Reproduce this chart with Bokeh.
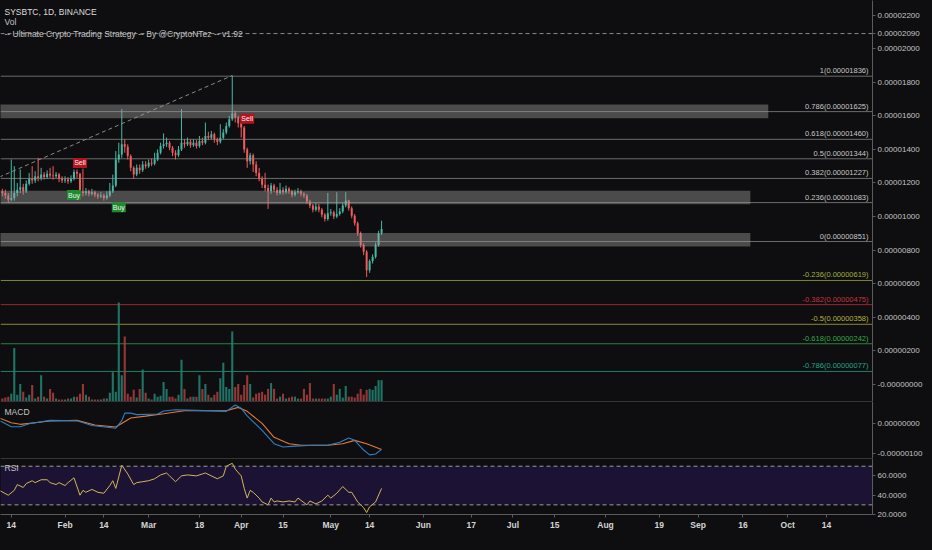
import numpy as np
import pandas as pd
from bokeh.plotting import figure
from bokeh.layouts import column
from bokeh.models import (ColumnDataSource, Range1d, FixedTicker, Span, Label,
                          BoxAnnotation, GlobalInlineStyleSheet)
from bokeh.embed import file_html
from bokeh.resources import INLINE
from bokeh.core.properties import value

# ---------------- data (prices in satoshi = 1e-8 BTC) ----------------
start_date = "2019-01-10"
opens = [1160, 1150, 1140, 1125, 1100, 1110, 1140, 1160, 1175, 1150, 1195, 1225, 1215, 1240,
         1230, 1250, 1235, 1255, 1245, 1240, 1250, 1225, 1215, 1220, 1210, 1225, 1265,
         1255, 1150, 1140, 1150, 1135, 1145, 1130, 1120, 1125, 1110,
         1125, 1150, 1185, 1340, 1370, 1430, 1415, 1360, 1290, 1250, 1290, 1275, 1310, 1300,
         1320, 1315, 1340, 1380, 1420, 1430, 1440, 1410, 1380, 1365, 1400, 1440, 1430, 1445,
         1425, 1440, 1420, 1450, 1440, 1480, 1470, 1490, 1460, 1445, 1470, 1500, 1540, 1580,
         1615, 1590, 1555,
         1530, 1400, 1330, 1365, 1310, 1260, 1225, 1190, 1170, 1150, 1185, 1160, 1140, 1160,
         1145, 1165, 1150, 1130, 1145, 1150, 1135, 1125, 1090, 1065, 1040, 1060, 1040, 1010,
         985, 1020, 1025, 1000, 1015, 1030, 1065, 1095, 1050, 1005, 960, 900, 830, 790, 680,
         735, 760, 830, 900]
highs = [1180, 1165, 1160, 1140, 1340, 1300, 1200, 1280, 1195, 1215, 1260, 1300, 1270, 1350,
         1290, 1265, 1275, 1290, 1300, 1265, 1260, 1240, 1240, 1235, 1245, 1280, 1280,
         1260, 1285, 1170, 1160, 1165, 1155, 1140, 1145, 1135, 1150,
         1200, 1250, 1390, 1440, 1640, 1460, 1430, 1370, 1300, 1310, 1310, 1330, 1330, 1340,
         1345, 1380, 1400, 1440, 1495, 1470, 1450, 1420, 1395, 1420, 1640, 1460, 1470, 1460,
         1460, 1455, 1480, 1470, 1560, 1505, 1510, 1500, 1470, 1550, 1520, 1560, 1600, 1840,
         1630, 1600, 1565,
         1540, 1410, 1380, 1375, 1330, 1290, 1240, 1260, 1190, 1200, 1195, 1175, 1200, 1175,
         1185, 1175, 1160, 1160, 1170, 1160, 1145, 1135, 1100, 1075, 1080, 1075, 1050, 1020,
         1140, 1045, 1035, 1145, 1050, 1080, 1145, 1100, 1060, 1015, 970, 910, 840, 800, 745,
         775, 845, 915, 975]
lows = [1130, 1120, 1105, 1080, 1090, 1095, 1120, 1140, 1130, 1140, 1185, 1195, 1200, 1210,
        1215, 1220, 1225, 1230, 1220, 1230, 1205, 1200, 1200, 1195, 1200, 1215, 1230,
        1125, 1120, 1125, 1120, 1125, 1115, 1105, 1110, 1095, 1100,
        1115, 1140, 1175, 1320, 1350, 1380, 1340, 1270, 1225, 1240, 1255, 1265, 1285, 1290,
        1300, 1305, 1330, 1370, 1405, 1415, 1395, 1360, 1340, 1355, 1390, 1410, 1420, 1410,
        1415, 1405, 1410, 1425, 1430, 1455, 1460, 1440, 1425, 1435, 1460, 1490, 1530, 1570,
        1560, 1530, 1470,
        1380, 1290, 1310, 1265, 1240, 1210, 1170, 1150, 1045, 1135, 1145, 1125, 1130, 1130,
        1135, 1135, 1115, 1120, 1135, 1120, 1110, 1075, 1050, 1025, 1030, 1025, 995, 970,
        975, 1005, 985, 990, 1005, 1020, 1055, 1035, 990, 945, 885, 815, 770, 640, 665,
        720, 750, 820, 890]
closes = [1150, 1140, 1125, 1100, 1110, 1140, 1160, 1175, 1150, 1195, 1225, 1215, 1240, 1230,
          1250, 1235, 1255, 1245, 1240, 1250, 1225, 1215, 1220, 1210, 1225, 1265, 1255,
          1150, 1140, 1150, 1135, 1145, 1130, 1120, 1125, 1110, 1125,
          1150, 1185, 1340, 1370, 1430, 1415, 1360, 1290, 1250, 1290, 1275, 1310, 1300, 1320,
          1315, 1340, 1380, 1420, 1430, 1440, 1410, 1380, 1365, 1400, 1440, 1430, 1445, 1425,
          1440, 1420, 1450, 1440, 1480, 1470, 1490, 1460, 1445, 1470, 1500, 1540, 1580, 1615,
          1590, 1555, 1530,
          1400, 1330, 1365, 1310, 1260, 1225, 1190, 1170, 1150, 1185, 1160, 1140, 1160, 1145,
          1165, 1150, 1130, 1145, 1150, 1135, 1125, 1090, 1065, 1040, 1060, 1040, 1010, 985,
          1020, 1025, 1000, 1015, 1030, 1065, 1095, 1050, 1005, 960, 900, 830, 790, 680, 735,
          760, 830, 900, 925]
volumes = [16, 12, 16, 20, 32, 220, 28, 72, 40, 16, 28, 68, 12, 20, 108, 20, 12, 52, 36, 12,
           8, 8, 8, 12, 12, 20, 20, 32, 72, 28, 20, 8, 8, 8, 8, 12, 12, 36, 120, 40, 408, 108,
           268, 32, 20, 48, 16, 52, 132, 36, 12, 8, 32, 20, 24, 80, 52, 20, 20, 12, 28, 172,
           52, 12, 20, 20, 20, 108, 52, 72, 28, 16, 28, 40, 96, 160, 60, 52, 288, 60, 72, 28,
           68, 108, 72, 16, 32, 36, 40, 28, 52, 76, 52, 12, 20, 32, 12, 16, 20, 20, 12, 12, 52,
           28, 76, 12, 12, 12, 12, 12, 12, 20, 72, 28, 52, 16, 64, 20, 20, 16, 32, 52, 28, 48,
           52, 48, 64, 88, 88]

# MACD (blue) and signal (orange), satoshi units, sampled by day index
macd_days = [0, 4, 7, 10, 17, 26, 31, 39, 41, 42, 44, 46, 53, 55, 59, 66, 76, 79, 81, 83,
             88, 92, 95, 99, 105, 110, 114, 117, 119, 122, 124, 126, 128]
macd_vals = [10, -11, -11, -1, 10, 9, -7, -16, 9, 34, 34, 29, 31, 41, 45, 43, 40, 61, 50, 25,
             -23, -67, -78, -75, -72, -72, -62, -48, -56, -88, -104, -101, -86]
signal_days = [0, 4, 7, 17, 26, 32, 39, 44, 49, 55, 62, 76, 80, 83, 88, 92, 97, 101, 110,
               115, 119, 123, 128]
signal_vals = [18, 2, -3, 8, 10, -5, -12, 18, 24, 32, 42, 42, 53, 40, 0, -46, -67, -72, -72,
               -67, -56, -67, -86]

rsi_days = [0, 3, 5, 6, 8, 9, 11, 12, 14, 16, 17, 19, 20, 22, 23, 25, 27, 28, 29, 31, 33, 35,
            37, 38, 39, 41, 43, 45, 46, 48, 50, 52, 54, 56, 57, 59, 61, 63, 66, 68, 69, 71, 73,
            75, 76, 78, 79, 81, 82, 83, 84, 85, 87, 88, 90, 91, 92, 93, 95, 97, 99, 100, 103,
            104, 106, 108, 110, 111, 113, 115, 117, 118, 120, 122, 123, 124, 126, 128]
rsi_vals = [45, 40, 45, 51, 48, 52, 55, 53, 56, 56, 53, 51, 53, 50, 53, 58, 40, 45, 43, 46, 43,
            42, 50, 55, 47, 71, 62, 51, 53, 54, 55, 57, 61, 63, 60, 54, 60, 61, 60, 62, 63, 60,
            57, 60, 70, 73, 67, 60, 47, 37, 45, 43, 37, 33, 30, 37, 33, 34, 33, 34, 33, 37, 30,
            34, 31, 34, 40, 37, 42, 49, 43, 43, 33, 27, 22, 28, 33, 47]

fib_ratios = ["1", "0.786", "0.618", "0.5", "0.382", "0.236", "0",
              "-0.236", "-0.382", "-0.5", "-0.618", "-0.786"]
fib_values = [1836, 1625, 1460, 1344, 1227, 1083, 851, 619, 475, 358, 242, 77]
fib_colors = ["#8c8c8c"] * 7 + ["#a3b03a", "#c8323e", "#b8b23a", "#34a84a", "#23a482"]

zone_top = [1667, 1154, 902]
zone_bottom = [1586, 1073, 821]
zone_end_day = [257.5, 251.5, 251.5]

trend_days = [0, 78]
trend_prices = [1235, 1840]
strategy_level = 2090

sig_days = [27, 25, 40, 83]
sig_prices = [1319, 1128, 1056, 1582]
sig_kind = ["Sell", "Buy", "Buy", "Sell"]

price_ticks = [0, 200, 400, 600, 800, 1000, 1200, 1400, 1600, 1800, 2000, 2090, 2200]
price_tick_labels = ["-0.00000000", "0.00000200", "0.00000400", "0.00000600", "0.00000800",
                     "0.00001000", "0.00001200", "0.00001400", "0.00001600", "0.00001800",
                     "0.00002000", "0.00002090", "0.00002200"]
macd_ticks = [0, -100]
macd_tick_labels = ["0.00000000", "-0.00000100"]
rsi_ticks = [20, 40, 60]
rsi_tick_labels = ["20.0000", "40.0000", "60.0000"]

tick_dates = ["2019-01-14", "2019-02-01", "2019-02-14", "2019-03-01", "2019-03-18",
              "2019-04-01", "2019-04-15", "2019-05-01", "2019-05-14", "2019-06-01",
              "2019-06-17", "2019-07-01", "2019-07-15", "2019-08-01", "2019-08-19",
              "2019-09-01", "2019-09-16", "2019-10-01", "2019-10-14"]
tick_labels = ["14", "Feb", "14", "Mar", "18", "Apr", "15", "May", "14", "Jun", "17", "Jul",
               "15", "Aug", "19", "Sep", "16", "Oct", "14"]

# ---------------- styling ----------------
BG = "#0e0e10"
AX = "#5c5c5c"
TXT = "#c4c4c4"
FONT = "Liberation Sans"
UP, DOWN = "#45b8a6", "#ee5d5d"
VUP, VDOWN = "#22806f", "#a53c3c"
FW = 872
H_MAIN, H_MACD, H_RSI = 401, 57, 56

dates = pd.date_range(start_date, periods=len(closes), freq="D")
day = np.array((dates - dates[0]).days, dtype=float)
o = np.array(opens, float); c = np.array(closes, float)
up = c >= o
src = ColumnDataSource(dict(
    x=day, o=o, h=np.array(highs, float), l=np.array(lows, float), c=c,
    top=np.maximum(o, c), bot=np.minimum(o, c),
    col=[UP if u else DOWN for u in up],
    vcol=[VUP if u else VDOWN for u in up],
    vol=np.array(volumes, float)))
tick_pos = [int((pd.Timestamp(t) - dates[0]).days) for t in tick_dates]

x_range = Range1d(0.39, 292.4)


def style_axis(ax, size="8px"):
    ax.axis_line_color = AX
    ax.major_tick_line_color = AX
    ax.minor_tick_line_color = None
    ax.major_tick_in = 0
    ax.major_tick_out = 3
    ax.major_label_text_color = TXT
    ax.major_label_text_font = FONT
    ax.major_label_text_font_size = size
    ax.major_label_standoff = 2


def base_fig(h, yr, xloc=None):
    f = figure(frame_width=FW, frame_height=h, x_range=x_range, y_range=yr,
               x_axis_location=xloc, y_axis_location="right",
               output_backend="svg", toolbar_location=None,
               background_fill_color=BG, border_fill_color=BG,
               outline_line_color=None, min_border=0)
    f.xgrid.visible = False
    f.ygrid.visible = False
    style_axis(f.yaxis[0])
    return f


# ---------------- main pane ----------------
p = base_fig(H_MAIN, Range1d(-102, 2287))
p.yaxis[0].ticker = FixedTicker(ticks=price_ticks)
p.yaxis[0].major_label_overrides = dict(zip(price_ticks, price_tick_labels))
p.extra_y_ranges = {"vol": Range1d(0, 1652)}

for r, v, col in zip(fib_ratios, fib_values, fib_colors):
    p.add_layout(Span(location=v, dimension="width", line_color=col, line_width=1,
                      line_alpha=0.75, level="underlay"))
    p.add_layout(Label(x=FW - 4, x_units="screen", y=v, text=f"{r}({v / 1e8:.8f})",
                       text_align="right", text_baseline="bottom", y_offset=1,
                       text_font=FONT, text_font_size="7.5px",
                       text_color=("#c8c8c8" if col == "#8c8c8c" else col)))

p.add_layout(Span(location=strategy_level, dimension="width", line_color="#8a8a8a",
                  line_dash="4 3", line_width=1, level="underlay"))
p.line(trend_days, trend_prices, line_color="#8a8a8a", line_dash="4 3", line_width=1)

p.vbar(x="x", top="vol", bottom=0, width=0.7, fill_color="vcol", line_color=None,
       fill_alpha=0.9, y_range_name="vol", source=src)
p.segment(x0="x", y0="l", x1="x", y1="h", line_color="col", line_width=1, source=src)
p.vbar(x="x", top="top", bottom="bot", width=0.66, fill_color="col", line_color=None,
       source=src)

p.quad(left=[-5] * len(zone_top), right=zone_end_day, top=zone_top, bottom=zone_bottom,
       fill_color="#a0a0a0", fill_alpha=0.42, line_color=None)

sig_src = ColumnDataSource(dict(
    x=sig_days, y=sig_prices, t=sig_kind,
    col=["#b3141f" if k == "Sell" else "#1d8c2c" for k in sig_kind]))
p.rect(x="x", y="y", width=14, height=10, width_units="screen", height_units="screen",
       fill_color="col", line_color=None, source=sig_src)
p.text(x="x", y="y", text="t", text_align="center", text_baseline="middle",
       text_color="#f2f2f2", text_font=value(FONT), text_font_size="7px", source=sig_src)

for txt, yy, col in [("SYSBTC, 1D, BINANCE", H_MAIN - 11, "#dddddd"),
                     ("Vol", H_MAIN - 21.5, "#c4c4c4"),
                     ("-- Ultimate Crypto Trading Strategy -- By @CryptoNTez -- v1.92",
                      H_MAIN - 33, "#c4c4c4")]:
    p.add_layout(Label(x=4, y=yy, x_units="screen", y_units="screen", text=txt,
                       text_baseline="middle", text_font=FONT, text_font_size="8.5px",
                       text_color=col))

# ---------------- MACD pane ----------------
pm = base_fig(H_MACD, Range1d(-116, 72.5))
pm.yaxis[0].ticker = FixedTicker(ticks=macd_ticks)
pm.yaxis[0].major_label_overrides = dict(zip(macd_ticks, macd_tick_labels))
pm.add_layout(Span(location=72.5, dimension="width", line_color=AX, line_width=1))
pm.line(signal_days, signal_vals, line_color="#e27a36", line_width=1.1)
pm.line(macd_days, macd_vals, line_color="#2c7fc6", line_width=1.1)
pm.add_layout(Label(x=4, y=H_MACD - 10, x_units="screen", y_units="screen", text="MACD",
                    text_baseline="middle", text_font=FONT, text_font_size="8.5px",
                    text_color="#c4c4c4"))

# ---------------- RSI pane ----------------
pr = base_fig(H_RSI, Range1d(20, 78), xloc="below")
pr.min_border_bottom = 4
pr.yaxis[0].ticker = FixedTicker(ticks=rsi_ticks)
pr.yaxis[0].major_label_overrides = dict(zip(rsi_ticks, rsi_tick_labels))
pr.add_layout(BoxAnnotation(bottom=30, top=70, fill_color="#1c1233", fill_alpha=1,
                            line_color=None, level="underlay"))
pr.add_layout(Span(location=78, dimension="width", line_color=AX, line_width=1))
for lv in (70, 30):
    pr.add_layout(Span(location=lv, dimension="width", line_color="#9a9a9a",
                       line_dash="4 3", line_width=1))
pr.line(rsi_days, rsi_vals, line_color="#d2b75a", line_width=1)
pr.add_layout(Label(x=4, y=H_RSI - 9, x_units="screen", y_units="screen", text="RSI",
                    text_baseline="middle", text_font=FONT, text_font_size="8.5px",
                    text_color="#c4c4c4"))
xa = pr.xaxis[0]
style_axis(xa, "8.5px")
xa.ticker = FixedTicker(ticks=tick_pos)
xa.major_label_overrides = dict(zip(tick_pos, tick_labels))
xa.major_label_text_color = "#d4d4d4"
xa.major_label_text_font_style = "bold"

layout = column(p, pm, pr, spacing=0)
layout.stylesheets = [GlobalInlineStyleSheet(css="body { background-color: #0e0e10; }")]

open("out.html", "w").write(file_html(layout, INLINE))
